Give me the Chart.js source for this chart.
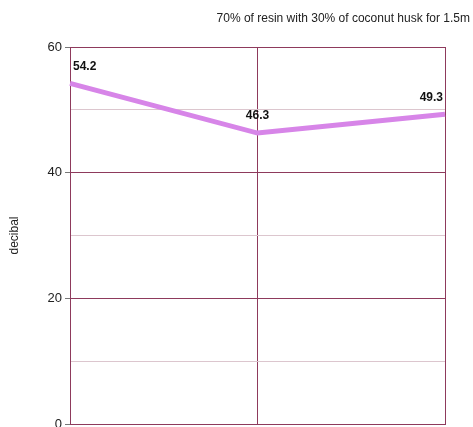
<!DOCTYPE html>
<html>
<head>
<meta charset="utf-8">
<script src="https://cdn.jsdelivr.net/npm/chart.js@4/dist/chart.umd.min.js"></script>
<style>
  html, body { margin: 0; padding: 0; background: #fff; }
  #wrap { width: 473px; height: 427px; }
</style>
</head>
<body>
<div id="wrap"><canvas id="chart"></canvas></div>
<script>
const categories = ["1", "2", "3"];
const decibelValues = [54.2, 46.3, 49.3];
const yTicks = [0, 20, 40, 60];
const chartTitle = "70% of resin with 30% of coconut husk for 1.5m";
const yTitle = "decibal";

const majorColor = "#8e3a5c";
const minorColor = "#dcc6ce";
const lineColor = "#d785e8";

// value labels above each point
const valueLabels = {
  id: "valueLabels",
  afterDatasetsDraw(chart) {
    const ctx = chart.ctx;
    const meta = chart.getDatasetMeta(0);
    ctx.save();
    ctx.font = "bold 12px 'Liberation Sans', Arial, sans-serif";
    ctx.fillStyle = "#111";
    ctx.textBaseline = "middle";
    meta.data.forEach((pt, i) => {
      const last = meta.data.length - 1;
      ctx.textAlign = i === 0 ? "left" : (i === last ? "right" : "center");
      const dx = i === 0 ? 3 : (i === last ? -2 : 0);
      ctx.fillText(decibelValues[i].toFixed(1), pt.x + dx, pt.y - 17);
    });
    ctx.restore();
  }
};

new Chart(document.getElementById("chart"), {
  type: "line",
  data: {
    labels: categories,
    datasets: [{
      data: decibelValues,
      borderColor: lineColor,
      borderWidth: 5,
      pointRadius: 0,
      tension: 0
    }]
  },
  options: {
    responsive: true,
    maintainAspectRatio: false,
    animation: false,
    layout: { padding: { left: 0, right: 3, top: 0, bottom: 0 } },
    plugins: {
      legend: { display: false },
      tooltip: { enabled: false },
      title: {
        display: true,
        text: chartTitle,
        align: "end",
        color: "#222",
        font: { family: "'Liberation Sans', Arial, sans-serif", size: 12, weight: "normal" },
        padding: { top: 11, bottom: 21.6 }
      }
    },
    scales: {
      x: {
        offset: false,
        afterFit(scale) { scale.height = 3; },
        ticks: { display: false },
        grid: { color: majorColor, lineWidth: 1, drawTicks: false },
        border: { color: majorColor }
      },
      y: {
        min: 0,
        max: 60,
        afterFit(scale) {
          scale.width = 70;
          scale.paddingBottom = 0;
          scale.paddingTop = 0;
        },
        ticks: {
          stepSize: 10,
          padding: 3,
          color: "#222",
          font: { family: "'Liberation Sans', Arial, sans-serif", size: 13 },
          callback: v => yTicks.includes(v) ? v : ""
        },
        grid: {
          tickLength: 5,
          color: c => yTicks.includes(c.tick.value) ? majorColor : minorColor,
          tickColor: c => yTicks.includes(c.tick.value) ? "#777" : "rgba(0,0,0,0)"
        },
        border: { color: majorColor },
        title: {
          display: true,
          text: yTitle,
          color: "#222",
          font: { family: "'Liberation Sans', Arial, sans-serif", size: 12 },
          padding: { top: 7, bottom: 0 }
        }
      },
      y2: {
        position: "right",
        display: true,
        afterFit(scale) { scale.width = 25; },
        ticks: { display: false },
        grid: { display: false },
        border: { display: false }
      }
    }
  },
  plugins: [valueLabels]
});
</script>
</body>
</html>
